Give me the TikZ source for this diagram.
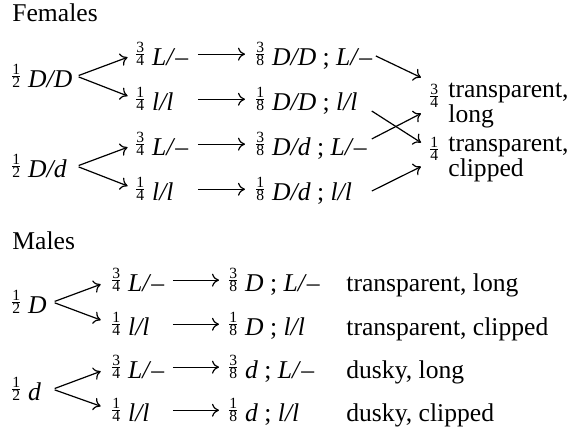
\documentclass[tikz,border=0pt]{standalone}
\usepackage{fontspec}
\setmainfont{Liberation Serif}
\usetikzlibrary{arrows.meta}
\newcommand\fr[2]{\mbox{\fontsize{7.8}{7.8}\selectfont\vbox{\tabskip=0pt\halign{\hfil##\hfil\cr #1\cr\noalign{\kern0.6pt\hrule\kern0.6pt}#2\cr}}}}
\newcommand\fq[3]{\fr{#1}{#2}\hspace{4pt}#3}
\begin{document}
\begin{tikzpicture}[x=0.5pt,y=-0.5pt,
  every node/.style={font=\fontsize{12.8}{15}\selectfont},
  t/.style={inner sep=0pt, anchor=base west},
  arr/.style={line width=0.6pt, -{To[length=3.5pt,width=6.5pt]}}]
\useasboundingbox (0,0) rectangle (575,433);
% ---------- Females ----------
\node[t] (fT) at (12,22) {Females};
\node[t] (fs1) at (12,88) {\makebox[32pt][l]{\fq12{\textit{D/D}}}};
\node[t] (fs2) at (12,178) {\makebox[32pt][l]{\fq12{\textit{D/d}}}};
\node[t] (fa1) at (136,66) {\makebox[30pt][l]{\fq34{\textit{L/}–}}};
\node[t] (fa2) at (136,111) {\makebox[30pt][l]{\fq14{\textit{l/l}}}};
\node[t] (fa3) at (136,156) {\makebox[30pt][l]{\fq34{\textit{L/}–}}};
\node[t] (fa4) at (136,201) {\makebox[30pt][l]{\fq14{\textit{l/l}}}};
\node[t] (fb1) at (256,66) {\makebox[57.5pt][l]{\fq38{\textit{D/D} ; \textit{L/}–}}};
\node[t] (fb2) at (256,111) {\makebox[57.5pt][l]{\fq18{\textit{D/D} ; \textit{l/l}}}};
\node[t] (fb3) at (256,156) {\makebox[57.5pt][l]{\fq38{\textit{D/d} ; \textit{L/}–}}};
\node[t] (fb4) at (256,201) {\makebox[57.5pt][l]{\fq18{\textit{D/d} ; \textit{l/l}}}};
\node[t] (fq1) at (430,108) {\fr34};
\node[t] (fq2) at (430,161) {\fr14};
\node[t] (fw1) at (448,98) {transparent,};
\node[t] (fw2) at (448,123) {long};
\node[t] (fw3) at (448,152) {transparent,};
\node[t] (fw4) at (448,177) {clipped};
\foreach \s/\a in {fs1/fa1,fs1/fa2,fs2/fa3,fs2/fa4}
  \draw[arr, shorten <=1pt, shorten >=4.5pt] (\s.east) -- (\a.west);
\foreach \a/\b in {fa1/fb1,fa2/fb2,fa3/fb3,fa4/fb4}
  \draw[arr, shorten <=0.5pt, shorten >=5.5pt] (\a.east) -- (\a.east -| \b.west);
\draw[arr] ([xshift=2pt]fb1.east) -- ([xshift=-4.5pt,yshift=9.25pt]fq1.west);
\draw[arr] ([yshift=-5pt]fb2.east) -- ([xshift=-4.5pt,yshift=3.25pt]fq2.west);
\draw[arr] ([yshift=3.5pt]fb3.east) -- ([xshift=-4.5pt,yshift=-8.75pt]fq1.west);
\draw[arr] (fb4.east) -- ([xshift=-4.5pt,yshift=-8.75pt]fq2.west);
% ---------- Males ----------
\node[t] (mT) at (12,250) {Males};
\node[t] (ms1) at (12,314) {\makebox[20pt][l]{\fq12{\textit{D}}}};
\node[t] (ms2) at (12,401) {\makebox[20pt][l]{\fq12{\textit{d}}}};
\node[t] (ma1) at (112,292) {\makebox[29.5pt][l]{\fq34{\textit{L/}–}}};
\node[t] (ma2) at (112,336) {\makebox[29.5pt][l]{\fq14{\textit{l/l}}}};
\node[t] (ma3) at (112,379) {\makebox[29.5pt][l]{\fq34{\textit{L/}–}}};
\node[t] (ma4) at (112,422) {\makebox[29.5pt][l]{\fq14{\textit{l/l}}}};
\node[t] (mb1) at (229,292) {\fq38{\textit{D} ; \textit{L/}–}};
\node[t] (mb2) at (229,336) {\fq18{\textit{D} ; \textit{l/l}}};
\node[t] (mb3) at (229,379) {\fq38{\textit{d} ; \textit{L/}–}};
\node[t] (mb4) at (229,422) {\fq18{\textit{d} ; \textit{l/l}}};
\node[t] (mc1) at (346,292) {transparent, long};
\node[t] (mc2) at (346,336) {transparent, clipped};
\node[t] (mc3) at (346,379) {dusky, long};
\node[t] (mc4) at (346,422) {dusky, clipped};
\foreach \s/\a in {ms1/ma1,ms1/ma2,ms2/ma3,ms2/ma4}
  \draw[arr, shorten <=1pt, shorten >=6pt] (\s.east) -- (\a.west);
\foreach \a/\b in {ma1/mb1,ma2/mb2,ma3/mb3,ma4/mb4}
  \draw[arr, shorten <=0.5pt, shorten >=5pt] (\a.east) -- (\a.east -| \b.west);
\end{tikzpicture}
\end{document}
